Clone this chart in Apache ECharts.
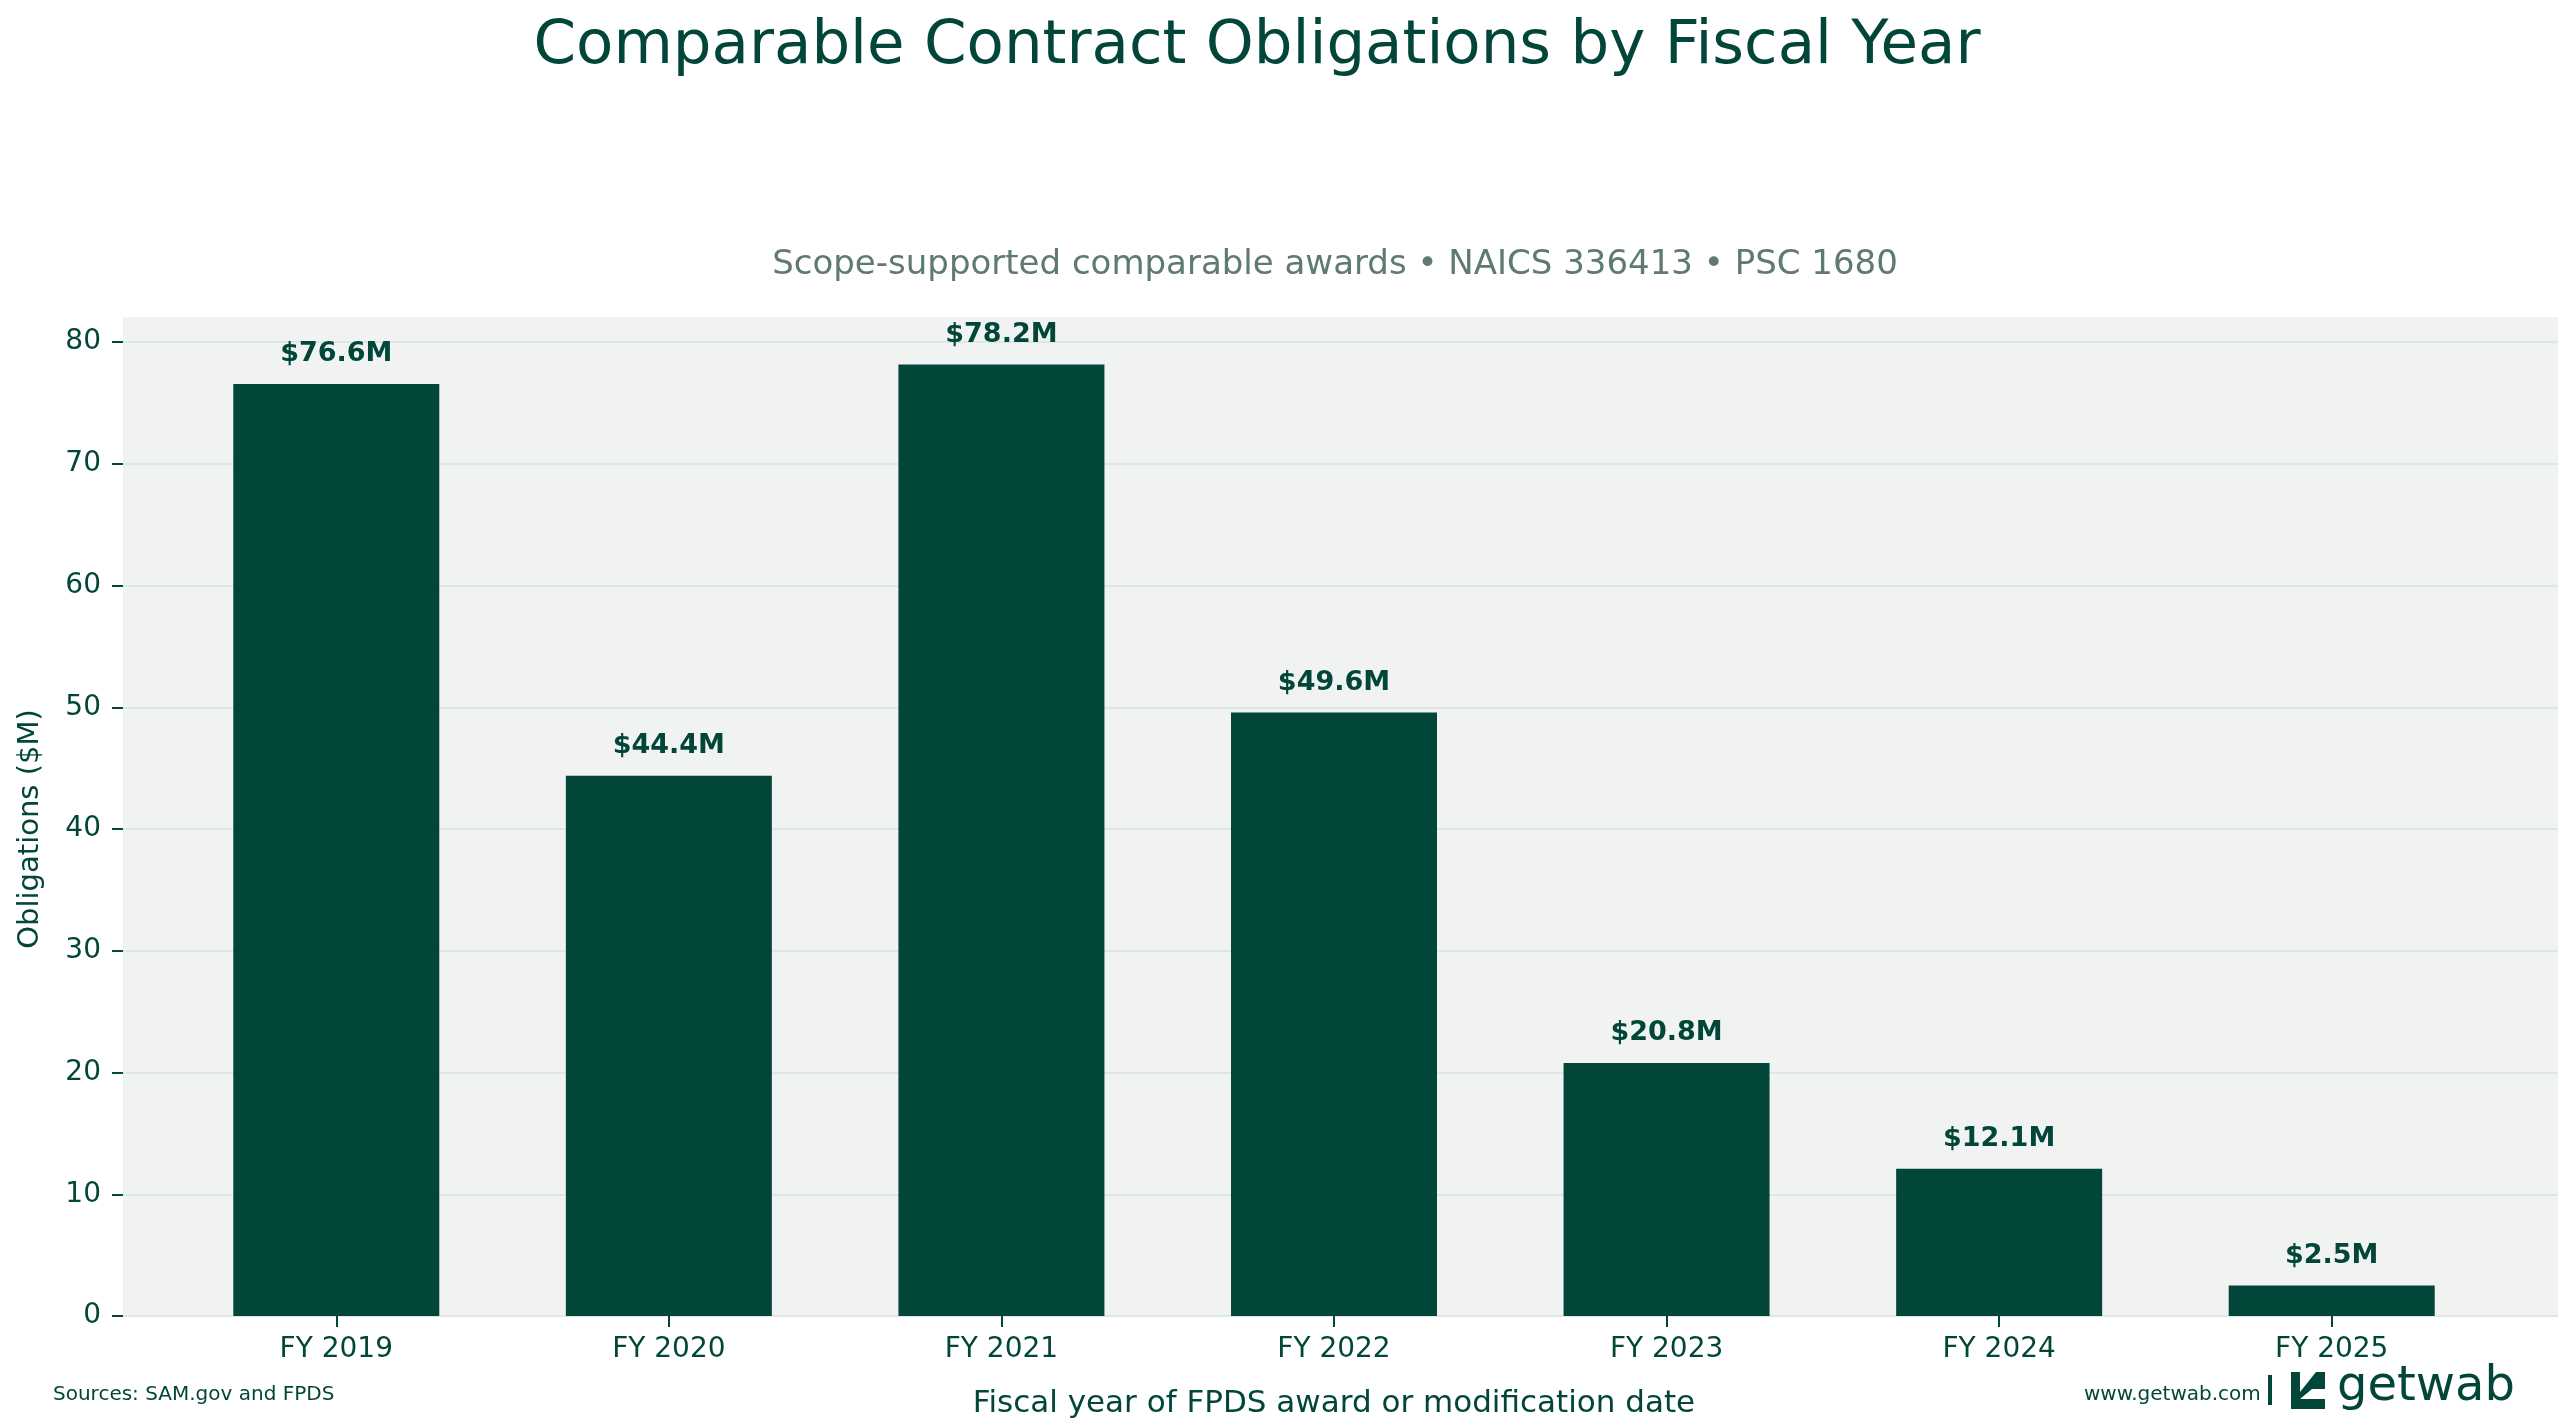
<!DOCTYPE html>
<html>
<head>
<meta charset="utf-8">
<script src="https://cdn.jsdelivr.net/npm/echarts@6/dist/echarts.min.js"></script>
<style>
  html, body { margin: 0; padding: 0; background: #fff; }
  #chart { width: 2565px; height: 1427px; }
</style>
</head>
<body>
<div id="chart"></div>
<script>
// data
const years = ['FY 2019', 'FY 2020', 'FY 2021', 'FY 2022', 'FY 2023', 'FY 2024', 'FY 2025']
const obligations = [76.6, 44.4, 78.2, 49.6, 20.8, 12.1, 2.5]

const green = '#02463a'
const font = 'DejaVu Sans'
const yMax = 82.1

const myChart = echarts.init(document.getElementById('chart'))

const option = {
  backgroundColor: '#ffffff',
  textStyle: { fontFamily: font, color: green },
  title: [
    {
      text: 'Comparable Contract Obligations by Fiscal Year',
      left: 1252, top: 12, textAlign: 'center',
      textStyle: { fontSize: 61, fontWeight: 'normal', color: green, fontFamily: font }
    },
    {
      text: 'Scope-supported comparable awards • NAICS 336413 • PSC 1680',
      left: 1330, top: 243, textAlign: 'center',
      textStyle: { fontSize: 34, fontWeight: 'normal', color: '#5f7a72', fontFamily: font }
    }
  ],
  grid: [
    { left: 123, right: 7, top: 342, bottom: 111 },
    { left: 170, right: 67, top: 317, bottom: 111 }
  ],
  xAxis: [
    { type: 'category', gridIndex: 0, data: years, show: false },
    {
      type: 'category', gridIndex: 1, data: years,
      axisLine: { show: false },
      axisTick: { show: true, alignWithLabel: true, length: 11, lineStyle: { color: green, width: 2 } },
      axisLabel: { color: green, fontSize: 28, margin: 20, fontFamily: font },
      name: 'Fiscal year of FPDS award or modification date',
      nameLocation: 'middle', nameGap: 72,
      nameTextStyle: { fontSize: 31, color: green, fontFamily: font }
    }
  ],
  yAxis: [
    {
      type: 'value', gridIndex: 0, min: 0, max: 80, interval: 10,
      axisLine: { show: false },
      axisTick: { show: true, length: 11, lineStyle: { color: green, width: 2 } },
      axisLabel: { color: green, fontSize: 28, margin: 22, fontFamily: font },
      splitLine: { show: true, lineStyle: { color: '#dde7e3', width: 2 } },
      name: 'Obligations ($M)', nameLocation: 'middle', nameGap: 78,
      nameTextStyle: { fontSize: 29, color: green, fontFamily: font }
    },
    { type: 'value', gridIndex: 1, min: 0, max: yMax, show: false }
  ],
  series: [
    {
      type: 'bar', xAxisIndex: 1, yAxisIndex: 1,
      data: obligations, barWidth: 206,
      itemStyle: { color: green },
      label: {
        show: true, position: 'top', distance: 16,
        color: green, fontSize: 27, fontWeight: 'bold', fontFamily: font,
        formatter: p => '$' + p.value.toFixed(1) + 'M'
      }
    }
  ],
  graphic: [
    { type: 'rect', z: -10, silent: true, shape: { x: 123, y: 317, width: 2435, height: 999 }, style: { fill: '#f1f3f2' } },
    { type: 'text', left: 53, top: 1385, style: { text: 'Sources: SAM.gov and FPDS', fontSize: 20, fill: green, fontFamily: font } },
    { type: 'text', left: 2084, top: 1385, style: { text: 'www.getwab.com', fontSize: 20, fill: green, fontFamily: font } },
    { type: 'rect', shape: { x: 2268, y: 1375, width: 4, height: 30 }, style: { fill: green } },
    { type: 'polygon', shape: { points: [[2291, 1372], [2300, 1372], [2300, 1392], [2316, 1372], [2325, 1372], [2325, 1389], [2312, 1389], [2300, 1399], [2325, 1399], [2325, 1409], [2291, 1409]] }, style: { fill: green } },
    { type: 'text', left: 2337, top: 1364, style: { text: 'getwab', fontSize: 48, fill: green, fontFamily: font } }
  ],
  animation: false
}

myChart.setOption(option)
</script>
</body>
</html>
